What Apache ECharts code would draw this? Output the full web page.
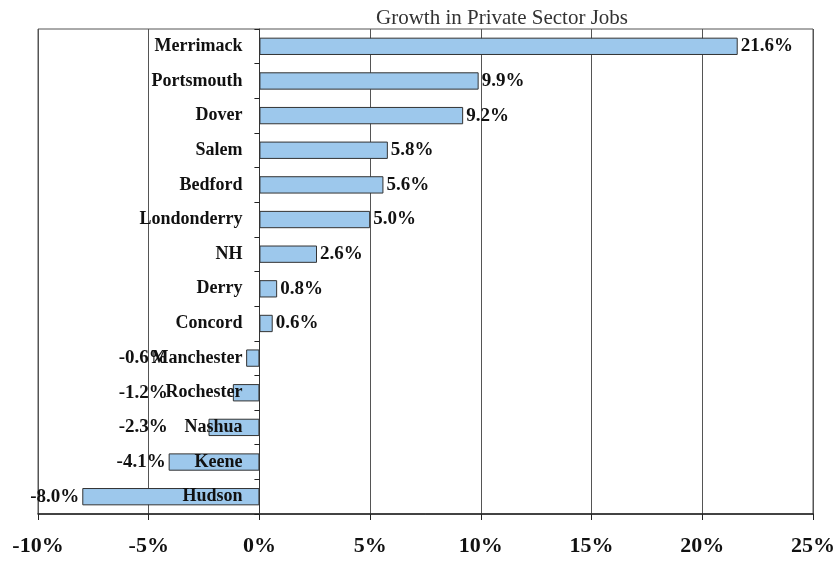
<!DOCTYPE html>
<html><head><meta charset="utf-8">
<script src="https://cdn.jsdelivr.net/npm/echarts@6/dist/echarts.min.js"></script>
<style>html,body{margin:0;padding:0;background:#fff}#c{width:837px;height:561px}</style>
</head><body><div id="c"></div>
<script>
const titleText = 'Growth in Private Sector Jobs';
const categories = ['Merrimack','Portsmouth','Dover','Salem','Bedford','Londonderry','NH','Derry','Concord','Manchester','Rochester','Nashua','Keene','Hudson'];
const growth = [21.6, 9.9, 9.2, 5.8, 5.6, 5.0, 2.6, 0.8, 0.6, -0.6, -1.2, -2.3, -4.1, -8.0];
const xTicks = [-10, -5, 0, 5, 10, 15, 20, 25];

const FONT = '"Liberation Serif", "Times New Roman", serif';
const W = 837, GL = 38, GR = 24;
const xMin = xTicks[0], xMax = xTicks[xTicks.length-1];
const pxPerUnit = (W - GL - GR) / (xMax - xMin);
const zeroOffset = -pxPerUnit * (0 - xMin);
// negative value labels sit to the left of the category names (as in the source)
const NEG_LABEL_ANCHOR = -4.0;
const chart = echarts.init(document.getElementById('c'), null, {renderer:'canvas'});
chart.setOption({
  animation: false,
  title: {
    text: titleText, left: 497, top: 3, textAlign: 'center',
    textStyle: {fontFamily: FONT, fontSize: 21, fontWeight: 'normal', color: '#333'}
  },
  grid: {left: GL, right: GR, top: 29, bottom: 47, show: true, borderColor: '#555', borderWidth: 1, containLabel: false, outerBoundsMode: 'none'},
  xAxis: {
    type: 'value', min: xMin, max: xMax, interval: 5,
    axisLine: {show: true, lineStyle: {color: '#222', width: 1.5}},
    axisTick: {show: true, length: 6, lineStyle: {color: '#222'}},
    axisLabel: {formatter: v => v + '%', fontFamily: FONT, fontSize: 22, fontWeight: 'bold', color: '#111', margin: 21},
    splitLine: {show: true, lineStyle: {color: '#555', width: 1}}
  },
  yAxis: {
    type: 'category', data: categories, inverse: true, position: 'left', offset: zeroOffset, z: 5,
    axisLine: {show: true, onZero: false, lineStyle: {color: '#333', width: 1}},
    axisTick: {show: true, length: 5, lineStyle: {color: '#222'}},
    axisLabel: {fontFamily: FONT, fontSize: 18, fontWeight: 'bold', color: '#111', margin: 17, hideOverlap: false, padding: [4, 0, 0, 0]},
    splitLine: {show: false}
  },
  series: [{
    type: 'bar', barWidth: '50%',
    data: growth.map(v => ({
      value: v,
      label: v >= 0
        ? {position: 'right'}
        : {position: 'left', offset: [(Math.min(v, NEG_LABEL_ANCHOR) - v) * pxPerUnit, 0]}
    })),
    itemStyle: {color: '#9dc8ec', borderColor: '#333', borderWidth: 1},
    label: {show: true, formatter: p => p.value.toFixed(1) + '%', fontFamily: FONT, fontSize: 19, fontWeight: 'bold', color: '#111', distance: 3, padding: [4, 0, 0, 0]}
  }]
});
</script></body></html>
